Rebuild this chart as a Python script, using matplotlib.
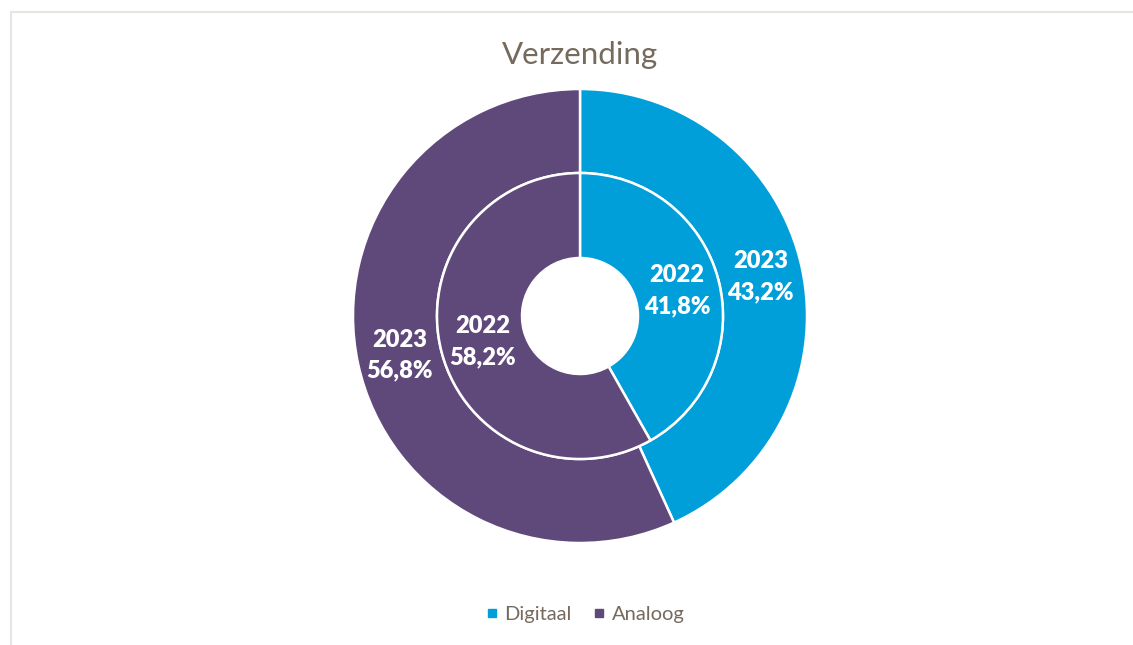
import matplotlib
matplotlib.use("Agg")
import matplotlib.pyplot as plt
from matplotlib.lines import Line2D
from matplotlib.patches import Rectangle

categories = ["Digitaal", "Analoog"]
values_2023 = [43.2, 56.8]
values_2022 = [41.8, 58.2]
labels_2023 = ["2023\n43,2%", "2023\n56,8%"]
labels_2022 = ["2022\n41,8%", "2022\n58,2%"]
colors = ["#009FDA", "#5F497A"]
title = "Verzending"

W, H = 1133, 645
fig = plt.figure(figsize=(W / 100, H / 100), dpi=100)
fig.patch.set_facecolor("white")

# light chart-area border
fig.add_artist(Rectangle((11 / W, -0.01), 1.2, 1 - 12 / H + 0.01, transform=fig.transFigure,
                         fill=False, edgecolor="#E8E5E0", linewidth=1.5))

cx, cy, R = 580, 316, 227
ax = fig.add_axes([(cx - R) / W, (H - cy - R) / H, 2 * R / W, 2 * R / H])
ax.set_xlim(-1, 1)
ax.set_ylim(-1, 1)
ax.axis("off")

r_outer = 1.0
r_mid = 143 / R
r_hole = 58 / R

font = ["Lato", "DejaVu Sans"]
tp = dict(color="white", fontsize=17, fontweight="heavy", family=font, linespacing=1.5)

w1, t1 = ax.pie(values_2023, radius=r_outer, colors=colors, startangle=90, counterclock=False,
                labels=labels_2023, labeldistance=(r_outer + r_mid) / 2 / r_outer,
                wedgeprops=dict(width=r_outer - r_mid, edgecolor="white", linewidth=1.8),
                textprops=tp)
w2, t2 = ax.pie(values_2022, radius=r_mid, colors=colors, startangle=90, counterclock=False,
                labels=labels_2022, labeldistance=(r_mid + r_hole) / 2 / r_mid,
                wedgeprops=dict(width=r_mid - r_hole, edgecolor="white", linewidth=1.8),
                textprops=tp)
for t in list(t1) + list(t2):
    t.set_ha("center")
    t.set_va("center")
ax.set_xlim(-1, 1)
ax.set_ylim(-1, 1)

fig.text(cx / W, 1 - 55 / H, title, ha="center", va="center", fontsize=22.5,
         color="#766A5E", family=font)

handles = [Line2D([], [], marker="s", linestyle="none", markersize=6, markerfacecolor=c,
                  markeredgecolor=c) for c in colors]
fig.legend(handles, categories, loc="center", bbox_to_anchor=(584 / W, 1 - 614 / H), ncol=2,
           frameon=False, handletextpad=0.2, columnspacing=1.0, handlelength=0.8,
           prop=dict(family=font, size=14.5), labelcolor="#766A5E")

fig.savefig("out.png", dpi=100, facecolor="white")
